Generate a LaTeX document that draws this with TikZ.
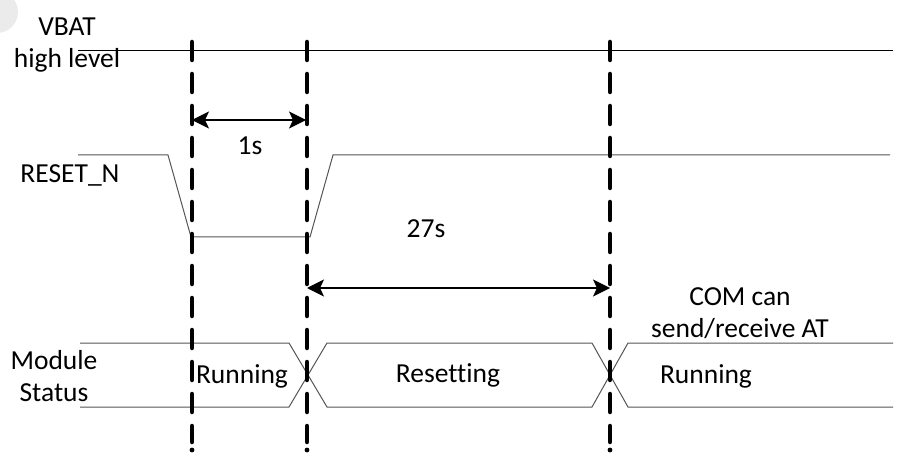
\documentclass[tikz,border=0pt]{standalone}
\usepackage{fontspec}
\setmainfont{Carlito}[Ligatures=NoCommon]
\usepackage{tikz}
\usetikzlibrary{arrows.meta}
\definecolor{wire}{HTML}{555555}
\definecolor{wmk}{HTML}{EBEBEB}

\begin{document}
\begin{tikzpicture}[x=1pt,y=-1pt,
		every node/.style={font=\fontsize{27.5}{32}\selectfont, inner sep=0pt, align=center},
		cut/.style={line width=4.5pt, line cap=round, dash pattern=on 18pt off 14pt},
		sig/.style={wire, line width=1pt},
		dimarrow/.style={line width=1.2pt, {Stealth[length=17pt,width=17pt,inset=4pt]}-{Stealth[length=17pt,width=17pt,inset=4pt]}}]
			\useasboundingbox (0,0) rectangle (897,457);
			\fill[wmk] (-3,12) circle (21);

			\node[anchor=north] (vbat) at (67,18) {VBAT\\high level};
			\node[anchor=base] (reset) at (70,183) {RESET\_N};
			\node[anchor=north] (status) at (54,350) {Module\\Status};

			\draw[black, line width=1pt] (78,51) -- (893,51);
			\draw[sig] (78,155) -- (168,155) -- (191,237) -- (310,237) -- (333,155) -- (890,155);

			\draw[sig] (80,343) -- (289,343) -- (327,407) -- (592,407) -- (628,343) -- (893,343);
			\draw[sig] (80,407) -- (289,407) -- (327,343) -- (592,343) -- (628,407) -- (893,407);

			\node[anchor=base] (run1) at (242,383) {Running};
			\node[anchor=base] (rst) at (448,382) {Resetting};
			\node[anchor=base] (run2) at (706,383) {Running};
			\node[anchor=north] (com) at (740,287) {COM can\\send/receive AT};

			\coordinate (ta) at (192,42);
			\coordinate (ta') at (192,442);
			\coordinate (tb) at (307,42);
			\coordinate (tb') at (307,442);
			\coordinate (tc) at (610,42);
			\coordinate (tc') at (610,442);

			\draw[cut] (ta) -- (ta');
			\draw[cut] (tb) -- (tb');
			\draw[cut] (tc) -- (tc');
			\fill (192,450) circle (2.4);
			\fill (307,450) circle (2.4);
			\fill (610,450) circle (2.4);

			\coordinate (s1) at (192,120);
			\coordinate (e1) at (306,120);
			\coordinate (s2) at (307,288);
			\coordinate (e2) at (610,288);
			\draw[dimarrow] (s1) -- (e1);
			\draw[dimarrow] (s2) -- (e2);
			\node[anchor=base] (one) at (250,155) {1s};
			\node[anchor=base] (twoseven) at (426,237) {27s};
		\end{tikzpicture}
\end{document}
